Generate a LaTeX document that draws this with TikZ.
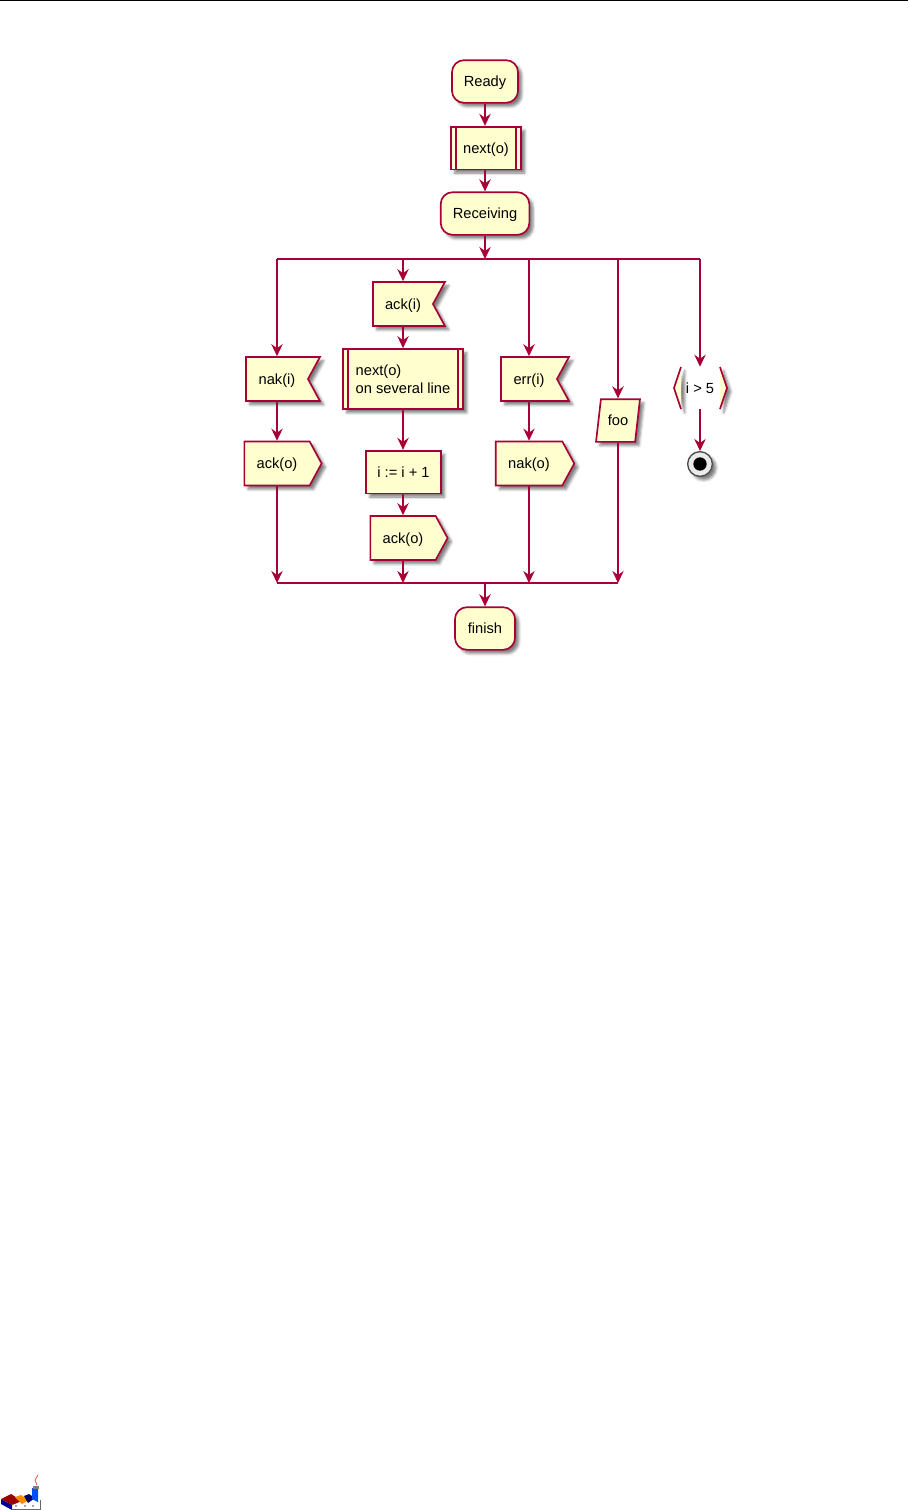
\documentclass[tikz,border=0pt]{standalone}
\usepackage{xcolor}
\usepackage{fontspec}
\setmainfont{Liberation Sans}
\usetikzlibrary{arrows.meta, positioning, shapes.geometric, shapes.symbols, shadows.blur}
\definecolor{umlred}{HTML}{A80036}
\definecolor{umlfill}{HTML}{FEFECE}
\begin{document}
\begin{tikzpicture}[
  x=0.75pt, y=-0.75pt,
  >=Stealth,
  edge/.style={draw=umlred, line width=1.25pt, -{Stealth[length=9pt,width=8.5pt,inset=3pt]}},
  barline/.style={draw=umlred, line width=1.25pt},
  softshadow/.style={blur shadow={shadow xshift=2.8pt, shadow yshift=-2.8pt, shadow blur radius=2pt, shadow opacity=50}},
  umlbox/.style={rectangle, draw=umlred, fill=umlfill, line width=1.25pt, softshadow, inner sep=0pt, align=left,
    font=\fontsize{11}{13.5}\selectfont, minimum height=32pt},
  linebox/.style={umlbox, text height=8pt, text depth=0.5pt},
  state/.style={linebox, rounded corners=9pt},
  recvflag/.style={linebox, signal, signal to=nowhere, signal from=east, signal pointer angle=123, minimum height=33pt, align=center},
  sendflag/.style={linebox, signal, signal to=east, signal from=nowhere, signal pointer angle=123, minimum height=33pt, align=center},
  txt/.style={font=\fontsize{11}{13.5}\selectfont, inner sep=0pt, text height=8pt, text depth=0.5pt}
]
\useasboundingbox (0,0) rectangle (908,1510);
\draw[black, line width=0.8pt] (0,0.6) -- (908,0.6);

% ---- upper column ----
\node[state, minimum width=49.5pt] (ready) at (485,81.5) {Ready};
\node[linebox, minimum width=52.5pt] (nextA) at (486,148) {next(o)};
\node[state, minimum width=66.5pt] (recv) at (485,213.5) {Receiving};
\draw[barline] (nextA.north west) ++(6,0) -- ++(0,43);
\draw[barline] (nextA.north east) ++(-6,0) -- ++(0,43);

% ---- branch bar ----
\coordinate (splitTop) at (485,259);
\coordinate (splitA) at (277,259);
\coordinate (splitB) at (403,259);
\coordinate (splitC) at (529,259);
\coordinate (splitD) at (618,259);
\coordinate (splitE) at (700,259);
\draw[barline] (splitA) -- (splitE);

% ---- first branch ----
\node[recvflag, text width=46.5pt] (nakI) at (277,379) {nak(i)};
\node[sendflag, text width=49pt] (ackA) at (277,463.5) {ack(o)};

% ---- second branch ----
\node[recvflag, text width=45pt] (ackI) at (403,304) {ack(i)};
\node[umlbox, minimum width=90pt, minimum height=45pt] (nextB) at (403,379) {next(o)\\on several line};
\draw[barline] (nextB.north west) ++(6,0) -- ++(0,60);
\draw[barline] (nextB.north east) ++(-6,0) -- ++(0,60);
\node[linebox, minimum width=56pt] (incr) at (403.5,472) {i := i + 1};
\node[sendflag, text width=49pt] (ackB) at (403,538) {ack(o)};

% ---- third branch ----
\node[recvflag, text width=42pt] (errI) at (529,379) {err(i)};
\node[sendflag, text width=50pt] (nakO) at (529,463.5) {nak(o)};

% ---- fourth branch ----
\node[linebox, trapezium, trapezium left angle=75.6, trapezium right angle=104.4, trapezium stretches=true,
  minimum width=33pt, minimum height=32pt, align=center] (foo) at (618,420.5) {foo};

% ---- fifth branch ----
\coordinate (condLa) at (681,367);
\coordinate (condLb) at (674,388);
\coordinate (condLc) at (681,409);
\coordinate (condRa) at (720,367);
\coordinate (condRb) at (727,388);
\coordinate (condRc) at (720,409);
\fill[umlfill, softshadow] (condLa) -- (condLb) -- (condLc) -- cycle;
\fill[umlfill, softshadow] (condRa) -- (condRb) -- (condRc) -- cycle;
\draw[barline] (condLa) -- (condLb) -- (condLc);
\draw[barline] (condRa) -- (condRb) -- (condRc);
\node[txt, minimum width=29pt, minimum height=31.5pt] (cond) at (700,388) {i > 5};
\node[circle, draw=black!70, line width=1pt, fill=black!8, softshadow, minimum size=18.5pt, inner sep=0pt] (stop) at (700,464) {};
\node[circle, fill=black, minimum size=10pt, inner sep=0pt] (stopdot) at (stop.center) {};

% ---- merge bar ----
\coordinate (mergeA) at (277,583);
\coordinate (mergeB) at (403,583);
\coordinate (mergeC) at (529,583);
\coordinate (mergeD) at (618,583);
\coordinate (mergeTop) at (485,583);
\draw[barline] (mergeA) -- (mergeD);
\node[state, minimum width=45pt] (finish) at (485,628.5) {finish};

% ---- connectors ----
\draw[edge] (ready) -- (ready |- nextA.north);
\draw[edge] (ready |- nextA.south) -- (recv);
\draw[edge] (recv) -- (splitTop);
\draw[edge] (splitA) -- (nakI.north);
\draw[edge] (nakI.south) -- (ackA.north);
\draw[edge] (ackA.south) -- (mergeA);
\draw[edge] (splitB) -- (ackI.north);
\draw[edge] (ackI.south) -- (nextB.north);
\draw[edge] (nextB.south) -- (incr.north -| nextB.south);
\draw[edge] (incr.south -| nextB.south) -- (ackB.north);
\draw[edge] (ackB.south) -- (mergeB);
\draw[edge] (splitC) -- (errI.north);
\draw[edge] (errI.south) -- (nakO.north);
\draw[edge] (nakO.south) -- (mergeC);
\draw[edge] (splitD) -- (foo.north);
\draw[edge] (foo.south) -- (mergeD);
\draw[edge] (splitE) -- (cond.north);
\draw[edge] (cond.south) -- (stop.north);
\draw[edge] (mergeTop) -- (finish.north);

% ---- logo ----
\fill[blue!60!black] (1,1499) -- (12,1505) -- (12,1510) -- (1,1504) -- cycle;
\fill[red!60!black] (1,1499) -- (11,1494) -- (22,1501) -- (12,1505) -- cycle;
\fill[orange!90!yellow] (15,1497) -- (21,1495) -- (29,1500) -- (22,1504) -- cycle;
\fill[blue!40!black] (24,1496) -- (29,1494) -- (35,1498) -- (28,1503) -- cycle;
\fill[blue!70!cyan] (32,1488) -- (38,1488) -- (38,1502) -- (32,1499) -- cycle;
\fill[gray] (33,1486) -- (39,1486) -- (39,1489) -- (33,1489) -- cycle;
\draw[red!80!white, line width=0.5pt] (38,1475) -- (35,1480) -- (37,1485);
\foreach \dotx in {16,25,33}
  \fill[black!70] (\dotx,1506) circle (0.8);
\draw[black!60, line width=0.5pt] (12,1509) -- (40,1509) -- (40,1500);
\end{tikzpicture}
\end{document}
